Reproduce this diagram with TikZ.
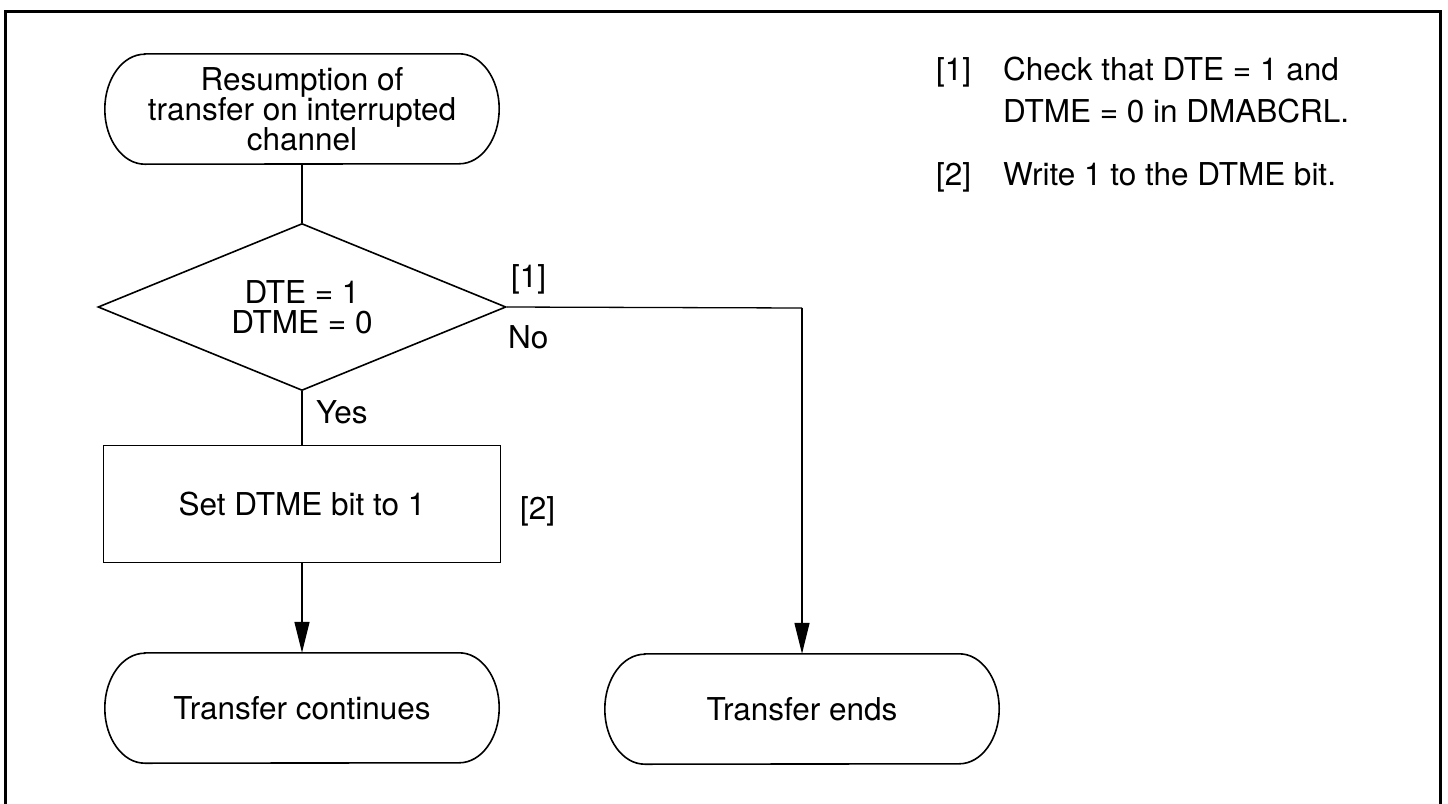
\documentclass[tikz,border=0pt]{standalone}
\usepackage{fontspec}
\setmainfont{TeX Gyre Heros}
\usetikzlibrary{positioning,shapes.geometric,arrows.meta}

\begin{document}
\begin{tikzpicture}[x=1pt, y=-1pt,
  every node/.style={font=\fontsize{31.5pt}{30pt}\selectfont, inner sep=0pt},
  terminal/.style={minimum width=394pt, minimum height=110pt, align=center},
  decision/.style={diamond, draw, line width=1.6pt, aspect=2.44, minimum width=408pt,
    minimum height=167pt, align=center},
  process/.style={rectangle, draw, line width=1.6pt, minimum width=397pt,
    minimum height=117pt},
  tag/.style={anchor=base west},
  conn/.style={line width=1.3pt},
  arr/.style={conn, -{Triangle[length=31pt, width=15pt]}},
]
\useasboundingbox (0,0) rectangle (1448,803);

% Frame
\draw[line width=3.5pt] (5.5,830) -- (5.5,11.5) -- (1440.5,11.5) -- (1440.5,830);

% Column 1: main flow
\node[terminal] (start) at (302,109) {Resumption of\\transfer on interrupted\\channel};
\node[decision] (dte) at (302,307) {DTE = 1\\DTME = 0};
\node[process] (setbit) at (302,504) {Set DTME bit to 1};
\node[terminal] (cont) at (302,708) {Transfer continues};

% Column 2: exit
\node[terminal] (ends) at (802,709) {Transfer ends};
\coordinate (bend) at (802,308);

% Terminal outlines
\foreach \n in {start,cont,ends}
  \draw[line width=1.6pt] ([xshift=40pt]\n.north west) -- ([xshift=-40pt]\n.north east)
    arc[start angle=90, end angle=-90, x radius=40pt, y radius=55pt]
    -- ([xshift=40pt]\n.south west)
    arc[start angle=270, end angle=90, x radius=40pt, y radius=55pt] -- cycle;

% Connectors
\draw[conn] (start) -- (dte);
\draw[conn] (dte) -- (setbit);
\draw[arr] (setbit) -- (cont);
\draw[conn] (dte.east) -- (bend);
\draw[arr] (bend) -- (ends);

% Branch tags
\node[tag] (tagone) at (511,287) {[1]};
\node[tag] (tagno) at (508,348) {No};
\node[tag] (tagyes) at (316,423) {Yes};
\node[tag] (tagtwo) at (520,519) {[2]};

% Notes
\node[tag] (noteone) at (936,80) {[1]};
\node[tag] (noteonea) at (1003,80) {Check that DTE = 1 and};
\node[tag] (noteoneb) at (1003,122) {DTME = 0 in DMABCRL.};
\node[tag] (notetwo) at (936,185) {[2]};
\node[tag] (notetwoa) at (1003,185) {Write 1 to the DTME bit.};

\end{tikzpicture}
\end{document}
